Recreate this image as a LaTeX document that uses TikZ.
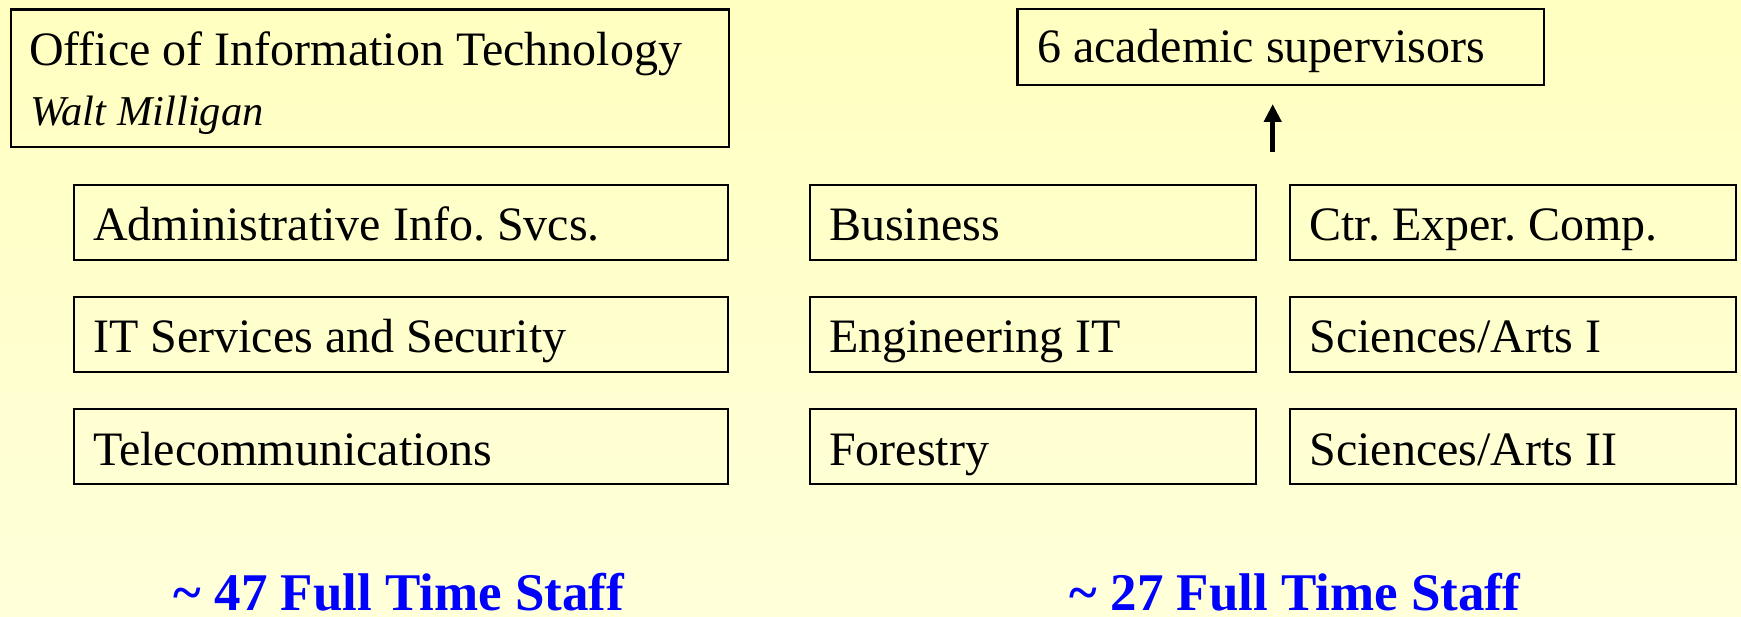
\documentclass[tikz,border=0pt]{standalone}
\usepackage{fontspec}
\setmainfont{Liberation Serif}
\usetikzlibrary{arrows.meta}
\frenchspacing
\definecolor{bgtop}{RGB}{255,255,192}
\definecolor{bgbottom}{RGB}{255,255,218}
\definecolor{staffblue}{RGB}{0,0,255}
\tikzset{
  unitbox/.style={draw=black, line width=2.2pt, rectangle, anchor=north west,
    inner xsep=19.5pt, inner ysep=0pt, outer sep=0pt,
    font=\fontsize{48}{57}\selectfont, text height=56pt, text depth=19pt},
  staffnote/.style={anchor=base, inner sep=0pt, text=staffblue,
    font=\fontsize{53}{60}\selectfont\bfseries},
  uparrow/.style={-{Triangle[length=18pt,width=17pt]}, line width=5pt}
}
\begin{document}
\begin{tikzpicture}[x=1pt, y=-1pt]
  % page with a soft vertical yellow gradient
  \shade[top color=bgtop, bottom color=bgbottom] (0,0) rectangle (1741,617);
  \useasboundingbox (0,0) rectangle (1741,617);

  % central IT office
  \node (oit) [draw=black, line width=2.2pt, rectangle, anchor=north west,
    minimum width=718.5pt, minimum height=137.5pt, inner sep=0pt]
    at (9.5,8.5) {};
  \node (oittitle) [anchor=base west, inner sep=0pt,
    font=\fontsize{48}{57}\selectfont] at (29,66) {Office of Information Technology};
  \node (oitdirector) [anchor=base west, inner sep=0pt,
    font=\fontsize{42.5}{50}\selectfont\itshape] at (30,126) {Walt Milligan};

  % OIT units
  \node (ais) [unitbox] at (73.7,185) {\makebox[615.6pt][l]{Administrative Info. Svcs.}};
  \node (itss) [unitbox] at (73.7,297) {\makebox[615.6pt][l]{IT Services and Security}};
  \node (telecom) [unitbox] at (73.7,409) {\makebox[615.6pt][l]{Telecommunications}};

  % academic units
  \node (business) [unitbox] at (809.7,185) {\makebox[407pt][l]{Business}};
  \node (engit) [unitbox] at (809.7,297) {\makebox[407pt][l]{Engineering IT}};
  \node (forestry) [unitbox] at (809.7,409) {\makebox[407pt][l]{Forestry}};
  \node (cec) [unitbox] at (1290,185) {\makebox[407pt][l]{Ctr. Exper. Comp.}};
  \node (sa1) [unitbox] at (1290,297) {\makebox[407pt][l]{Sciences/Arts I}};
  \node (sa2) [unitbox] at (1290,409) {\makebox[407pt][l]{Sciences/Arts II}};

  % academic supervisors
  \node (sup) [unitbox, text height=53.7pt, text depth=22pt]
    at (1017.5,9.3) {\makebox[487.5pt][l]{6 academic supervisors}};

  % reporting arrow
  \coordinate (arrowfoot) at (1272.7,151.7);
  \coordinate (arrowtip) at (1272.7,104);
  \draw[uparrow] (arrowfoot) -- (arrowtip);

  % staff counts
  \node (oitstaff) [staffnote] at (399,610) {\textasciitilde{} 47 Full Time Staff};
  \node (acadstaff) [staffnote] at (1295,610) {\textasciitilde{} 27 Full Time Staff};
\end{tikzpicture}
\end{document}
